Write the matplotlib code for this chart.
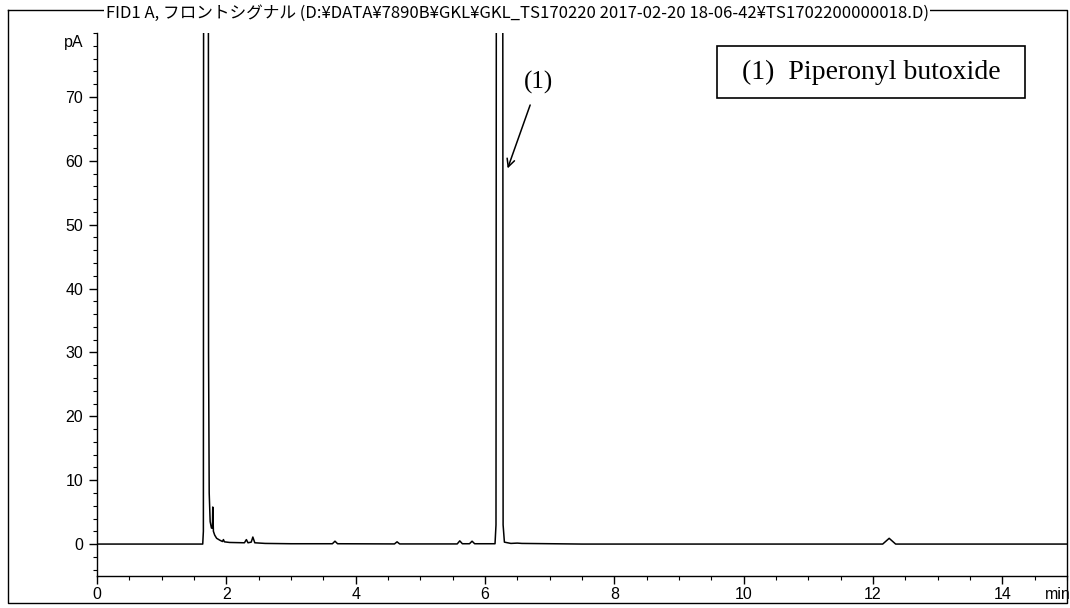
import matplotlib.pyplot as plt
from matplotlib.lines import Line2D
from matplotlib.patches import Rectangle
from matplotlib.ticker import MultipleLocator

# chromatogram trace: retention time (min) and signal (pA)
# the two big peaks go far off scale, their tops are only rough guesses
time_min = [0.0, 1.635, 1.645, 1.655, 1.69, 1.715, 1.725, 1.735, 1.75, 1.77,
            1.785, 1.79, 1.80, 1.82, 1.85, 1.90, 1.94, 1.955, 1.97, 2.05,
            2.28, 2.31, 2.335, 2.385, 2.41, 2.44, 2.60, 3.00, 3.64, 3.68,
            3.72, 4.60, 4.64, 4.68, 5.57, 5.61, 5.65, 5.76, 5.80, 5.84,
            6.155, 6.17, 6.185, 6.225, 6.265, 6.28, 6.30, 6.40, 6.50, 6.57,
            7.50, 12.15, 12.25, 12.35, 15.0]
signal_pa = [0.0, 0.0, 2.0, 250.0, 400.0, 250.0, 30.0, 8.0, 3.5, 2.5,
             2.5, 5.8, 2.0, 1.4, 0.9, 0.6, 0.4, 0.7, 0.35, 0.25,
             0.2, 0.7, 0.2, 0.3, 1.1, 0.2, 0.1, 0.05, 0.05, 0.45,
             0.05, 0.02, 0.35, 0.02, 0.02, 0.5, 0.05, 0.05, 0.45, 0.05,
             0.05, 3.0, 250.0, 400.0, 250.0, 3.0, 0.3, 0.1, 0.15, 0.1,
             0.0, 0.0, 0.9, 0.0, 0.0]

x_ticks = [0, 2, 4, 6, 8, 10, 12, 14]
y_ticks = [0, 10, 20, 30, 40, 50, 60, 70]

title = ('FID1 A, フロントシグナル (D:¥DATA¥7890B¥GKL¥GKL_TS170220 '
         '2017-02-20 18-06-42¥TS1702200000018.D)')
peak_label = '(1)'
legend_text = '(1)  Piperonyl butoxide'

plt.rcParams['font.family'] = ['Liberation Sans', 'DejaVu Sans']

fig = plt.figure(figsize=(10.7, 6.08), dpi=100)
W, H = 1070, 608
ax = fig.add_axes([97 / W, 1 - 576 / H, (1067 - 97) / W, (576 - 33) / H])

ax.plot(time_min, signal_pa, color='black', lw=1.1)
ax.set_xlim(0, 15)
ax.set_ylim(-5, 80)

for side in ['top', 'right']:
    ax.spines[side].set_visible(False)
for side in ['left', 'bottom']:
    ax.spines[side].set_linewidth(1.0)

ax.set_xticks(x_ticks)
ax.set_yticks(y_ticks)
ax.xaxis.set_minor_locator(MultipleLocator(0.5))
ax.yaxis.set_minor_locator(MultipleLocator(2))
ax.tick_params(axis='both', which='major', direction='out', length=6,
               width=1, labelsize=11.5)
ax.tick_params(axis='both', which='minor', direction='out', length=3, width=0.8)
ax.tick_params(axis='x', pad=2)
ax.tick_params(axis='y', pad=4)

ax.annotate('pA', xy=(0, 78.5), xytext=(-10, 0), textcoords='offset points',
            ha='right', va='center', fontsize=11.5)
ax.annotate('min', xy=(14.85, -5), xytext=(0, -8), textcoords='offset points',
            ha='center', va='top', fontsize=11.5)

# peak label with arrow
ax.annotate(peak_label, xy=(6.35, 58.8), xytext=(6.82, 72.2),
            ha='center', va='center', fontsize=18, family='Liberation Serif',
            arrowprops=dict(arrowstyle='->', color='black', lw=1.1,
                            shrinkA=6, shrinkB=0, mutation_scale=14))

# compound legend box
fig.patches.append(Rectangle((717 / W, 1 - 98 / H), (1025 - 717) / W, 52 / H,
                             transform=fig.transFigure, fill=False,
                             edgecolor='black', lw=1.2))
fig.text(871 / W, 1 - 72 / H, legend_text, ha='center', va='center',
         fontsize=20, family='Liberation Serif')

# outer frame of the printout
frame_x = [8 / W, 8 / W, 1067 / W, 1067 / W, 8 / W]
frame_y = [1 - 10 / H, 1 - 603 / H, 1 - 603 / H, 1 - 10 / H, 1 - 10 / H]
fig.lines.append(Line2D(frame_x, frame_y, transform=fig.transFigure,
                        color='black', lw=1.0))

fig.text(517 / W, 1 - 13 / H, title, ha='center', va='center', fontsize=12,
         family=['Noto Sans CJK JP', 'DejaVu Sans'],
         bbox=dict(facecolor='white', edgecolor='none', pad=1))

fig.savefig('out.png', dpi=100)
